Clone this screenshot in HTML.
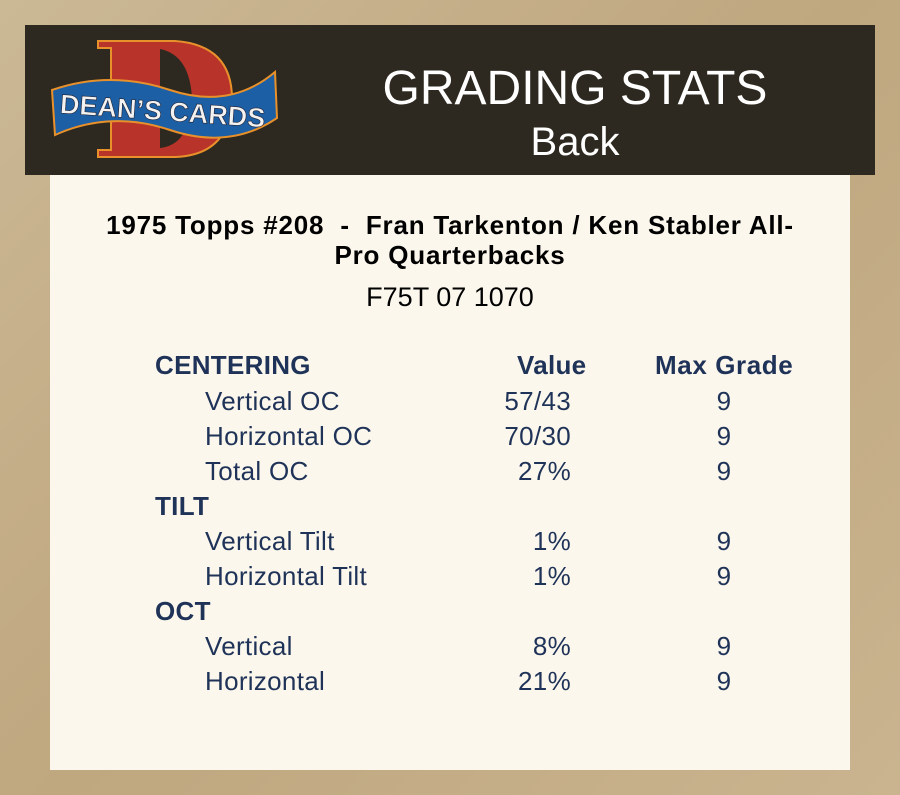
<!DOCTYPE html>
<html><head><style>
body{margin:0;width:900px;height:795px;overflow:hidden;background:#c4ae88;font-family:"Liberation Sans",sans-serif;position:relative}
.bg{position:absolute;inset:0;background:linear-gradient(135deg,#cbb895,#bfa77f 50%,#c9b48f)}
.hdr{position:absolute;left:25px;top:25px;width:850px;height:150px;background:#2e2920}
.panel{position:absolute;left:50px;top:175px;width:800px;height:595px;background:#fcf7ed}
.t{position:absolute;white-space:nowrap;line-height:1}
.c{color:#1f3358;font-size:26px;letter-spacing:0.3px}
.b{font-weight:bold}
</style></head><body>
<div class="bg"></div>
<div class="hdr"></div>
<svg style="position:absolute;left:0;top:0" width="300" height="200">
<path d="M98 41 H175 Q232 45 232 99 Q230 155 175 157 H98 V150 H111 V48 H98Z" fill="#b8332a" stroke="#e8902a" stroke-width="2"/>
<path d="M160 49 Q190 55 192 99 Q190 145 160 148Z" fill="#2e2920"/>
<path d="M52 90 Q110 70 170 90 Q230 110 275 72 L277 118 Q230 150 170 130 Q110 110 55 135Z" fill="#1c5fa5" stroke="#e8902a" stroke-width="2"/>
<text x="60" y="120" font-family="Liberation Sans" font-weight="bold" font-size="27" fill="#f2f2f2" stroke="#223" stroke-width="0.6" transform="rotate(4 160 110)">DEAN’S CARDS</text>
</svg>
<div class="panel"></div>
<div class="t" style="left:375px;width:400px;text-align:center;top:65px;font-size:48px;color:#fff">GRADING STATS</div>
<div class="t" style="left:375px;width:400px;text-align:center;top:122px;font-size:40px;color:#fff">Back</div>
<div class="t b" style="left:50px;width:800px;text-align:center;top:212px;font-size:26px;letter-spacing:0.8px;color:#000">1975 Topps #208&nbsp; - &nbsp;Fran Tarkenton / Ken Stabler All-</div>
<div class="t b" style="left:50px;width:800px;text-align:center;top:242px;font-size:26px;letter-spacing:0.8px;color:#000">Pro Quarterbacks</div>
<div class="t" style="left:50px;width:800px;text-align:center;top:284px;font-size:27px;color:#000">F75T 07 1070</div>

<div class="t c b" style="left:155px;top:352px">CENTERING</div>
<div class="t c b" style="left:517px;top:352px">Value</div>
<div class="t c b" style="left:655px;top:352px;letter-spacing:0.6px">Max Grade</div>

<div class="t c" style="left:205px;top:388px">Vertical OC</div>
<div class="t c" style="left:400px;width:171px;text-align:right;top:388px">57/43</div>
<div class="t c" style="left:700px;width:48px;text-align:center;top:388px">9</div>

<div class="t c" style="left:205px;top:423px">Horizontal OC</div>
<div class="t c" style="left:400px;width:171px;text-align:right;top:423px">70/30</div>
<div class="t c" style="left:700px;width:48px;text-align:center;top:423px">9</div>

<div class="t c" style="left:205px;top:458px">Total OC</div>
<div class="t c" style="left:400px;width:171px;text-align:right;top:458px">27%</div>
<div class="t c" style="left:700px;width:48px;text-align:center;top:458px">9</div>

<div class="t c b" style="left:155px;top:493px">TILT</div>

<div class="t c" style="left:205px;top:528px">Vertical Tilt</div>
<div class="t c" style="left:400px;width:171px;text-align:right;top:528px">1%</div>
<div class="t c" style="left:700px;width:48px;text-align:center;top:528px">9</div>

<div class="t c" style="left:205px;top:563px">Horizontal Tilt</div>
<div class="t c" style="left:400px;width:171px;text-align:right;top:563px">1%</div>
<div class="t c" style="left:700px;width:48px;text-align:center;top:563px">9</div>

<div class="t c b" style="left:155px;top:598px">OCT</div>

<div class="t c" style="left:205px;top:633px">Vertical</div>
<div class="t c" style="left:400px;width:171px;text-align:right;top:633px">8%</div>
<div class="t c" style="left:700px;width:48px;text-align:center;top:633px">9</div>

<div class="t c" style="left:205px;top:668px">Horizontal</div>
<div class="t c" style="left:400px;width:171px;text-align:right;top:668px">21%</div>
<div class="t c" style="left:700px;width:48px;text-align:center;top:668px">9</div>
</body></html>
